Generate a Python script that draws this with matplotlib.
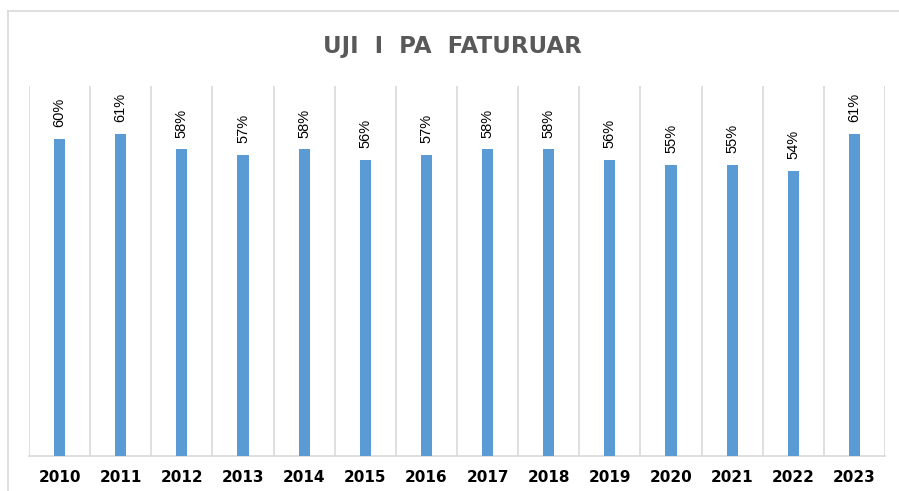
import matplotlib
matplotlib.use("Agg")
import matplotlib.pyplot as plt
from matplotlib.lines import Line2D

years = ["2010", "2011", "2012", "2013", "2014", "2015", "2016",
         "2017", "2018", "2019", "2020", "2021", "2022", "2023"]
values = [60, 61, 58, 57, 58, 56, 57, 58, 58, 56, 55, 55, 54, 61]
title = "UJI  I  PA  FATURUAR"

W, H = 899, 491
fig = plt.figure(figsize=(W / 100, H / 100), dpi=100)
ax = fig.add_axes([29 / W, 1 - 456 / H, (885 - 29) / W, (456 - 86) / H])

x = list(range(len(years)))
ax.bar(x, values, width=0.18, color="#5B9BD5", zorder=3)
ax.set_xlim(-0.5, len(years) - 0.5)
ax.set_ylim(0, 70)

for i, v in zip(x, values):
    ax.annotate(f"{v}%", (i, v), xytext=(0, 8.5), textcoords="offset points",
                rotation=90, ha="center", va="bottom", fontsize=10.5,
                color="#000000", family="Liberation Sans")

# vertical category gridlines
for b in range(len(years) + 1):
    ax.axvline(b - 0.5, color="#D9D9D9", lw=1.2, zorder=1)

ax.set_xticks(x)
ax.set_xticklabels(years, fontsize=11, fontweight="bold", color="#000000",
                   family="DejaVu Sans")
ax.tick_params(axis="x", length=0, pad=10)
ax.set_yticks([])
for s in ["top", "right", "left"]:
    ax.spines[s].set_visible(False)
ax.spines["bottom"].set_color("#D9D9D9")
ax.spines["bottom"].set_linewidth(1.2)

fig.text(452 / W, 1 - 47 / H, title, ha="center", va="center",
         fontsize=16.5, fontweight="bold", color="#595959", family="DejaVu Sans")

# outer chart border (left and top)
fig.add_artist(Line2D([8 / W, 8 / W], [-0.05, 1 - 11 / H], color="#D9D9D9", lw=1.2,
                      transform=fig.transFigure))
fig.add_artist(Line2D([8 / W, 1.05], [1 - 11 / H, 1 - 11 / H], color="#D9D9D9",
                      lw=1.2, transform=fig.transFigure))

fig.savefig("out.png", dpi=100)
